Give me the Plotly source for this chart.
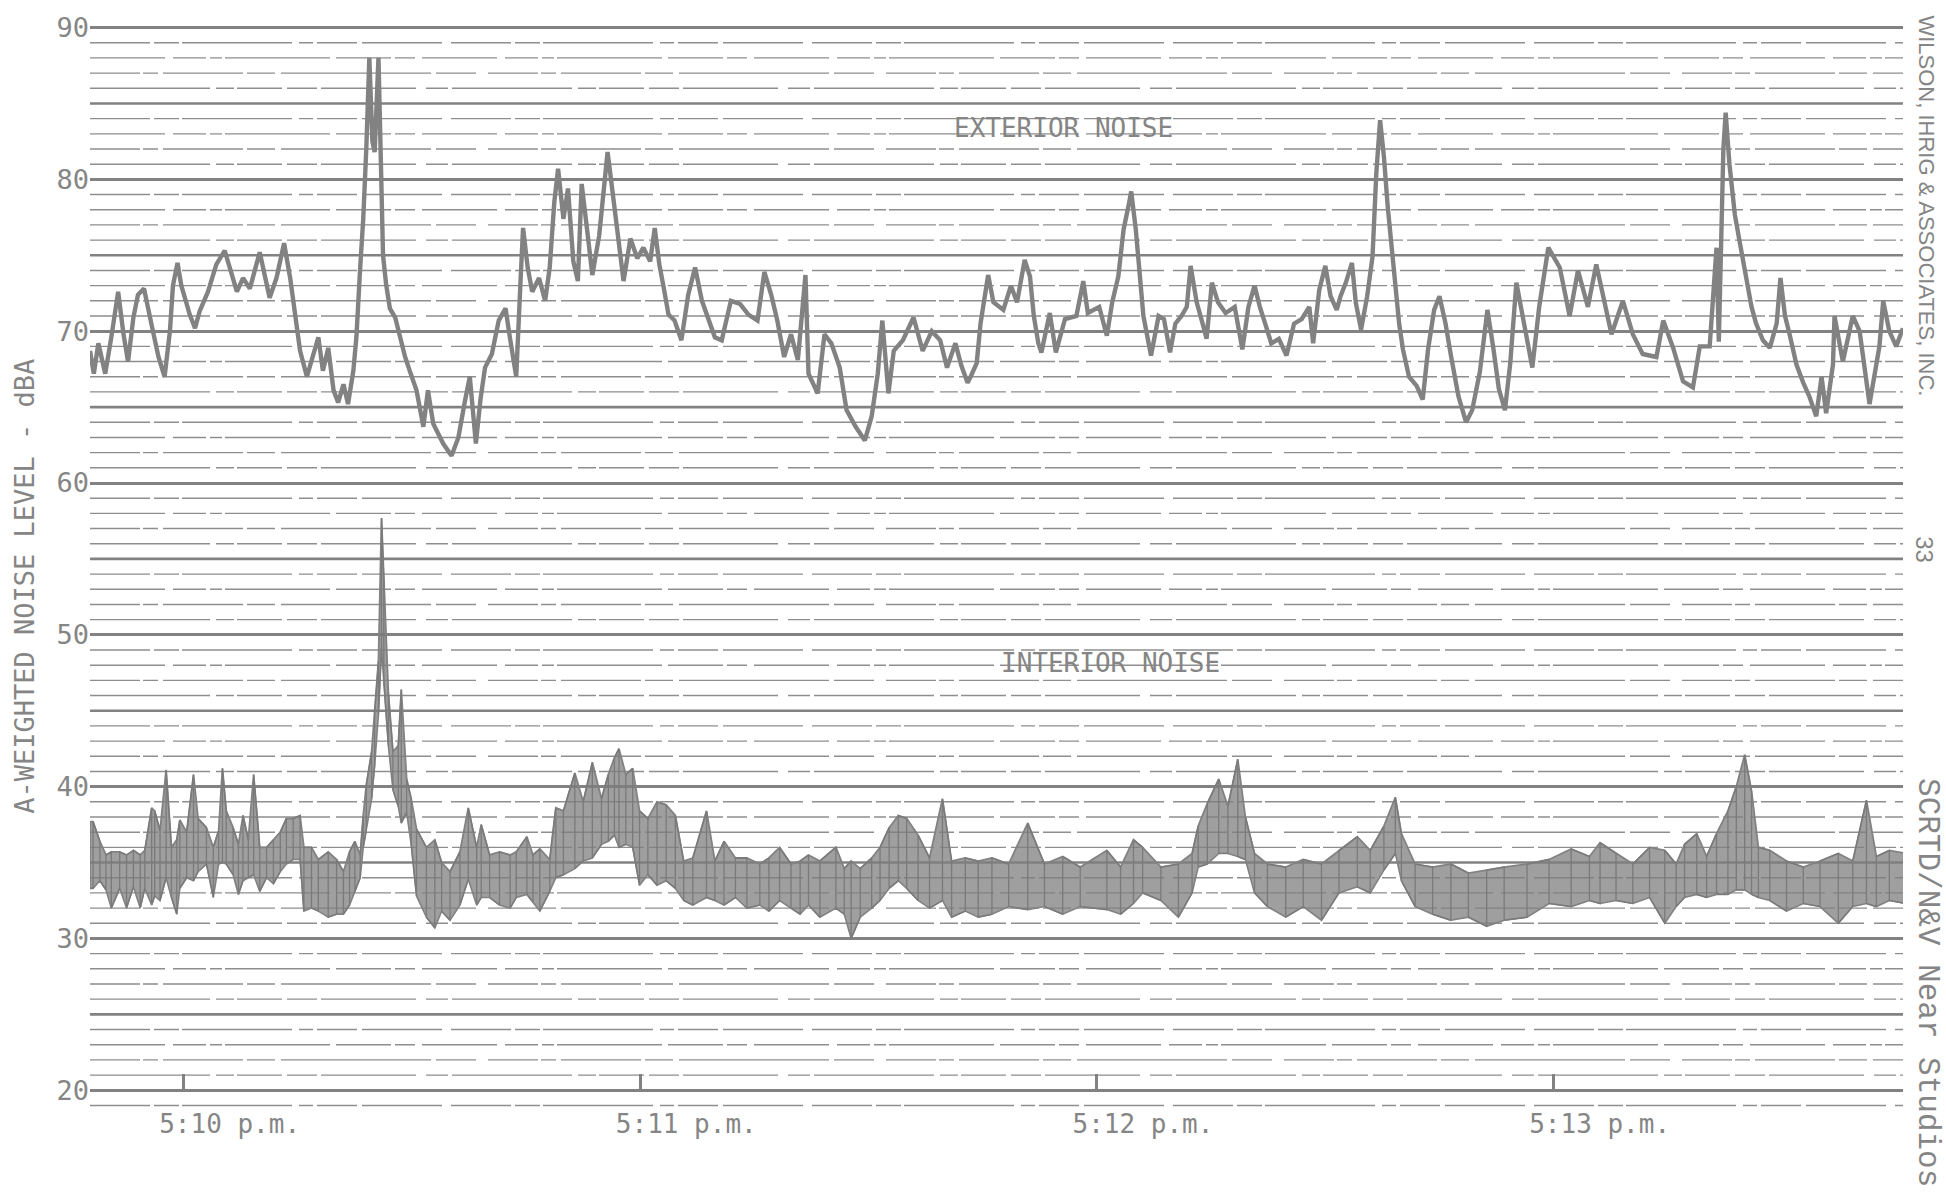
import plotly.graph_objects as go

# ---------------- data (seconds after 5:10:00 p.m., dBA) ----------------
ext_t = [
    -12.3, -11.8, -11.2, -10.3, -9.5, -8.6, -7.9, -7.3, -6.6, -6.0,
    -5.2, -4.6, -4.2, -3.3, -2.5, -1.8, -1.4, -0.8, -0.3, 0.4,
    0.8, 1.5, 2.1, 3.2, 4.3, 5.4, 6.3, 7.0, 7.8, 8.7,
    10.0, 10.7, 11.3, 12.2, 13.2, 14.0, 14.6, 15.3, 16.2, 17.0,
    17.7, 18.3, 19.0, 19.7, 20.3, 21.0, 21.6, 22.3, 22.7, 23.2,
    23.6, 24.0, 24.4, 24.8, 25.1, 25.6, 25.9, 26.2, 26.6, 27.1,
    27.8, 28.4, 29.1, 29.7, 30.6, 31.5, 32.1, 32.8, 33.4, 34.1,
    35.2, 36.1, 37.0, 37.6, 38.4, 39.0, 39.6, 40.5, 41.4, 42.3,
    42.8, 43.7, 44.3, 44.6, 45.2, 45.8, 46.7, 47.5, 48.1, 48.7,
    49.2, 49.9, 50.5, 51.2, 51.8, 52.3, 53.1, 53.7, 54.6, 55.7,
    56.3, 57.0, 57.8, 58.7, 59.6, 60.4, 61.3, 61.9, 62.5, 63.1,
    63.7, 64.5, 65.4, 66.3, 67.2, 68.1, 69.0, 69.8, 70.7, 71.9,
    73.1, 74.2, 75.4, 76.3, 77.2, 78.0, 78.9, 79.8, 80.7, 81.7,
    82.1, 83.3, 84.2, 85.1, 86.2, 87.1, 88.3, 89.5, 90.4, 91.2,
    91.8, 92.6, 93.3, 94.5, 95.9, 97.1, 98.3, 99.4, 100.3, 101.4,
    102.2, 103.0, 103.4, 104.2, 104.7, 105.2, 105.7, 106.4, 107.7, 108.7,
    109.5, 110.5, 111.2, 111.7, 112.3, 112.7, 113.8, 114.6, 115.8, 117.3,
    118.2, 118.8, 120.3, 121.3, 122.0, 122.8, 123.5, 124.2, 124.5, 125.1,
    125.6, 126.1, 126.6, 127.1, 128.1, 128.8, 129.6, 130.3, 131.1, 131.8,
    132.3, 133.1, 134.1, 134.4, 135.1, 135.9, 136.9, 138.1, 139.1, 139.9,
    140.7, 141.4, 142.1, 142.9, 143.9, 144.9, 145.9, 146.9, 147.9, 148.4,
    149.2, 150.0, 150.7, 151.5, 152.0, 152.7, 153.5, 154.0, 154.7, 155.5,
    156.2, 156.7, 157.2, 157.7, 158.2, 158.7, 159.2, 159.7, 160.2, 161.0,
    162.0, 162.8, 163.5, 164.3, 165.0, 165.8, 166.5, 167.5, 168.5, 169.3,
    170.3, 171.3, 172.1, 172.8, 173.6, 174.3, 175.1, 175.8, 176.6, 177.2,
    178.1, 179.3, 180.8, 182.1, 183.2, 184.5, 185.6, 186.9, 187.6, 189.1,
    190.4, 191.7, 193.5, 194.4, 195.7, 197.0, 198.3, 199.2, 200.5, 201.4,
    201.7, 202.3, 202.6, 203.1, 203.8, 204.4, 205.3, 206.0, 206.6, 207.5,
    208.4, 209.3, 209.8, 210.4, 211.0, 211.9, 212.8, 213.6, 214.5, 215.2,
    215.8, 216.7, 216.9, 218.0, 219.3, 220.2, 221.5, 222.8, 223.3, 224.1,
    225.0, 225.9,
]
ext_db = [
    68.7, 67.2, 69.2, 67.2, 69.6, 72.6, 69.8, 68.0, 70.9, 72.4,
    72.8, 71.5, 70.4, 68.3, 67.0, 70.0, 73.0, 74.5, 73.0, 71.8,
    71.1, 70.2, 71.3, 72.6, 74.4, 75.3, 73.9, 72.6, 73.5, 72.8,
    75.2, 73.5, 72.2, 73.5, 75.8, 73.5, 71.3, 68.7, 67.0, 68.5,
    69.6, 67.4, 68.9, 66.1, 65.3, 66.5, 65.2, 67.4, 69.6, 74.2,
    77.4, 82.0, 88.0, 82.5, 81.8, 88.0, 80.0, 75.0, 73.1, 71.5,
    70.9, 69.6, 68.3, 67.4, 66.1, 63.7, 66.1, 63.9, 63.3, 62.6,
    61.8, 63.0, 65.5, 67.0, 62.6, 65.5, 67.6, 68.5, 70.7, 71.5,
    69.8, 67.0, 73.7, 76.8, 74.2, 72.6, 73.5, 72.0, 74.2, 78.5,
    80.7, 77.4, 79.4, 74.6, 73.3, 79.7, 76.3, 73.7, 76.3, 81.8,
    79.4, 76.8, 73.3, 76.1, 74.8, 75.5, 74.6, 76.8, 74.4, 72.8,
    71.1, 70.7, 69.4, 72.4, 74.2, 72.0, 70.7, 69.6, 69.4, 72.0,
    71.8, 71.1, 70.7, 73.9, 72.4, 70.7, 68.3, 69.8, 68.1, 73.7,
    67.2, 65.9, 69.8, 69.2, 67.6, 64.8, 63.7, 62.8, 64.4, 67.2,
    70.7, 65.9, 68.7, 69.4, 70.9, 68.7, 70.0, 69.4, 67.6, 69.2,
    67.7, 66.6, 67.0, 67.9, 70.5, 72.3, 73.7, 71.9, 71.4, 73.0,
    71.9, 74.7, 73.6, 71.0, 69.2, 68.6, 71.2, 68.6, 70.8, 71.0,
    73.3, 71.2, 71.6, 69.7, 71.9, 73.6, 76.7, 78.4, 79.2, 76.7,
    73.6, 71.0, 69.7, 68.4, 71.0, 70.8, 68.6, 70.5, 71.0, 71.6,
    74.3, 71.9, 70.1, 69.5, 73.2, 71.9, 71.2, 71.6, 68.8, 71.6,
    73.0, 71.6, 70.5, 69.2, 69.5, 68.4, 70.5, 70.8, 71.6, 69.2,
    72.7, 74.3, 72.3, 71.4, 72.3, 73.2, 74.5, 71.9, 70.1, 72.3,
    74.9, 80.4, 83.9, 81.5, 78.2, 75.6, 72.7, 70.5, 68.8, 67.0,
    66.4, 65.5, 68.8, 71.4, 72.3, 70.5, 68.4, 65.7, 64.0, 64.8,
    67.3, 71.4, 68.8, 66.2, 64.8, 67.9, 73.2, 71.4, 69.2, 67.6,
    71.6, 75.5, 74.2, 71.0, 74.0, 71.6, 74.4, 71.6, 69.8, 72.0,
    69.8, 68.5, 68.3, 70.7, 68.9, 66.7, 66.3, 69.0, 69.0, 75.5,
    69.3, 82.0, 84.4, 81.0, 77.7, 76.0, 73.5, 71.6, 70.5, 69.4,
    68.9, 70.5, 73.5, 71.0, 69.8, 67.8, 66.6, 65.7, 64.4, 67.0,
    64.6, 67.8, 71.0, 68.0, 71.0, 70.0, 65.2, 69.0, 72.0, 70.0,
    69.0, 70.2,
]

int_t = [
    -12.3, -11.9, -11.0, -10.2, -9.5, -8.4, -7.5, -6.6, -5.7, -5.1,
    -4.2, -3.8, -3.1, -2.3, -1.6, -0.9, -0.5, 0.4, 1.3, 1.9,
    3.0, 3.9, 4.6, 5.1, 5.6, 6.5, 7.2, 7.8, 8.5, 9.2,
    10.0, 10.9, 11.8, 12.7, 13.5, 14.4, 15.3, 15.8, 16.8, 17.7,
    19.0, 20.1, 21.0, 21.8, 22.5, 23.2, 23.6, 24.0, 24.7, 25.1,
    25.6, 26.0, 26.3, 26.9, 27.5, 28.2, 28.6, 29.3, 29.9, 30.6,
    31.9, 33.0, 33.9, 35.0, 36.3, 37.4, 38.5, 39.1, 40.2, 41.5,
    42.9, 43.7, 45.1, 45.9, 46.8, 48.1, 48.9, 49.9, 51.4, 52.5,
    53.7, 54.9, 55.8, 56.6, 57.2, 58.1, 59.0, 59.9, 61.0, 62.2,
    63.4, 64.6, 65.7, 66.9, 68.7, 69.8, 71.0, 72.5, 74.0, 75.7,
    76.9, 78.3, 79.8, 81.0, 82.1, 83.6, 85.7, 86.8, 87.7, 88.9,
    90.4, 91.5, 92.7, 93.9, 95.0, 96.5, 98.0, 99.7, 100.9, 102.7,
    104.4, 106.2, 108.4, 110.9, 113.1, 115.5, 117.8, 121.3, 123.1, 124.8,
    126.0, 128.4, 130.7, 132.5, 133.3, 134.5, 136.0, 137.2, 138.5, 139.5,
    140.7, 142.4, 144.8, 147.1, 149.5, 151.8, 154.2, 155.9, 157.7, 159.2,
    160.0, 161.8, 164.1, 166.5, 168.8, 171.2, 173.5, 176.5, 179.4, 182.3,
    184.7, 186.1, 188.2, 190.4, 192.6, 194.6, 196.1, 197.2, 198.8, 200.1,
    201.4, 202.9, 204.0, 205.1, 206.0, 206.9, 208.4, 210.6, 212.8, 215.0,
    217.4, 219.3, 221.1, 222.4, 224.1, 226.3,
]
int_hi = [
    37.7, 37.7, 36.4, 35.5, 35.7, 35.7, 35.5, 35.8, 35.5, 35.8,
    38.6, 38.4, 37.1, 41.1, 36.0, 36.5, 37.8, 37.0, 40.8, 37.9,
    37.3, 36.0, 37.1, 41.2, 38.4, 37.3, 36.2, 38.1, 36.5, 40.8,
    36.0, 36.0, 36.5, 37.0, 37.9, 37.9, 38.1, 36.0, 36.0, 35.2,
    35.7, 35.2, 34.4, 35.7, 36.4, 35.5, 38.1, 40.1, 42.3, 44.9,
    48.3, 57.7, 53.7, 46.2, 42.3, 42.7, 46.4, 40.5, 39.2, 37.2,
    36.0, 36.5, 35.0, 34.4, 35.7, 38.6, 36.0, 37.5, 35.5, 35.7,
    35.5, 35.7, 36.7, 35.5, 35.9, 35.2, 38.6, 38.4, 40.9, 39.0,
    41.6, 39.2, 40.8, 41.9, 42.5, 40.8, 41.2, 38.4, 37.9, 39.0,
    38.8, 38.1, 35.1, 35.3, 38.4, 35.1, 36.4, 35.3, 35.3, 34.9,
    35.3, 36.0, 34.9, 35.1, 35.5, 35.1, 36.0, 34.6, 35.1, 34.6,
    35.3, 36.0, 37.3, 38.1, 37.9, 36.8, 35.3, 39.2, 35.1, 35.3,
    35.1, 35.3, 34.9, 37.6, 34.9, 35.4, 34.7, 35.8, 34.7, 36.5,
    36.0, 34.7, 34.9, 35.6, 37.4, 38.9, 40.5, 38.7, 41.8, 38.0,
    35.6, 34.9, 34.7, 35.2, 34.9, 35.8, 36.7, 35.8, 37.4, 39.3,
    36.9, 34.9, 34.7, 34.9, 34.3, 34.5, 34.7, 34.9, 35.2, 35.9,
    35.4, 36.3, 35.6, 34.9, 36.0, 35.8, 34.9, 36.2, 36.9, 35.4,
    36.9, 38.4, 40.0, 42.1, 39.7, 36.0, 35.8, 35.1, 34.7, 35.1,
    35.6, 35.1, 39.1, 35.4, 35.8, 35.6,
]
int_lo = [
    33.3, 33.3, 33.8, 33.2, 32.0, 33.3, 32.0, 33.4, 32.0, 33.3,
    32.2, 32.8, 32.5, 34.0, 32.7, 31.6, 33.3, 34.0, 33.8, 34.4,
    34.9, 32.7, 34.9, 35.0, 34.9, 34.2, 32.9, 33.8, 34.0, 34.2,
    33.1, 34.0, 33.6, 34.4, 34.9, 35.2, 35.2, 31.8, 32.0, 31.8,
    31.4, 31.6, 31.6, 32.2, 33.1, 34.0, 36.0, 37.1, 39.2, 41.4,
    44.8, 49.1, 47.0, 42.7, 39.8, 38.7, 37.6, 38.3, 36.2, 32.8,
    31.4, 30.7, 31.8, 31.2, 32.2, 33.9, 32.2, 32.7, 32.7, 32.2,
    32.0, 32.7, 32.9, 32.4, 31.8, 33.1, 34.0, 34.2, 34.6, 35.1,
    35.3, 36.2, 36.4, 36.8, 36.0, 36.2, 36.0, 33.5, 34.2, 33.5,
    33.8, 33.3, 32.5, 32.2, 32.7, 32.5, 32.2, 32.7, 32.0, 32.2,
    31.8, 32.5, 32.0, 31.6, 32.2, 31.4, 32.0, 31.6, 30.0, 31.4,
    32.0, 32.5, 33.3, 33.8, 33.3, 32.5, 32.0, 32.5, 31.4, 31.8,
    31.4, 31.6, 32.1, 31.9, 32.1, 31.6, 32.1, 31.9, 31.6, 32.3,
    33.0, 32.5, 31.4, 33.0, 34.7, 34.9, 35.6, 35.6, 35.4, 35.2,
    33.0, 32.1, 31.4, 32.1, 31.2, 33.0, 33.4, 33.0, 34.5, 35.6,
    33.8, 32.1, 31.6, 31.2, 31.4, 30.8, 31.2, 31.4, 32.3, 32.1,
    32.5, 32.3, 32.5, 32.3, 32.7, 31.0, 32.1, 32.7, 32.9, 32.7,
    32.9, 32.9, 33.2, 33.2, 32.9, 32.7, 32.5, 31.8, 32.3, 32.1,
    31.0, 32.1, 32.3, 32.1, 32.5, 32.3,
]

time_tickvals = [0, 60, 120, 180]
time_ticktext = ["5:10 p.m.", "5:11 p.m.", "5:12 p.m.", "5:13 p.m."]
level_tickvals = [20, 30, 40, 50, 60, 70, 80, 90]
level_ticktext = ["20", "30", "40", "50", "60", "70", "80", "90"]

# ---------------- styling ----------------
INK = "#828282"
TXT = "#858585"
X_RANGE = [-12.3, 225.9]
Y_RANGE = [18.7, 90.3]
MONO = "DejaVu Sans Mono, Liberation Mono, monospace"
THIN_DASHES = [
    "60px,4px,25px,3px,110px,7px,14px,4px,40px,5px,80px,9px",
    "35px,5px,90px,3px,20px,6px,70px,4px,130px,8px,12px,3px",
    "120px,6px,18px,3px,45px,5px,30px,4px,95px,10px,22px,4px",
    "50px,3px,15px,5px,80px,4px,28px,6px,150px,5px,40px,12px",
    "75px,8px,33px,4px,12px,3px,105px,6px,55px,4px,20px,7px",
]

fig = go.Figure()

# interior noise: pen band
fig.add_trace(go.Scatter(
    x=int_t, y=int_lo, mode="lines",
    line=dict(color=INK, width=1.6), hoverinfo="skip", showlegend=False))
fig.add_trace(go.Scatter(
    x=int_t, y=int_hi, mode="lines", fill="tonexty",
    fillcolor="rgba(125,125,125,0.74)",
    line=dict(color=INK, width=1.8), hoverinfo="skip", showlegend=False))
# vertical pen strokes at each read sample
stroke_x, stroke_y = [], []
for i, (t, hi, lo) in enumerate(zip(int_t, int_hi, int_lo)):
    stroke_x += [t, t]
    stroke_y += [hi, lo] if i % 2 == 0 else [lo, hi]
fig.add_trace(go.Scatter(
    x=stroke_x, y=stroke_y, mode="lines",
    line=dict(color="#7a7a7a", width=1.3), hoverinfo="skip", showlegend=False))

# exterior noise trace
fig.add_trace(go.Scatter(
    x=ext_t, y=ext_db, mode="lines",
    line=dict(color=INK, width=4.4), hoverinfo="skip", showlegend=False))

# 1-dB and 5-dB chart-paper lines
lo_line = int(Y_RANGE[0]) + 1
hi_line = int(Y_RANGE[1])
for k, lv in enumerate(range(lo_line, hi_line + 1)):
    if lv % 10 == 0:
        continue
    if lv % 5 == 0:
        fig.add_shape(type="line", xref="paper", yref="y", x0=0, x1=1, y0=lv, y1=lv,
                      line=dict(color=INK, width=2.6), layer="below")
    else:
        fig.add_shape(type="line", xref="paper", yref="y", x0=0, x1=1, y0=lv, y1=lv,
                      line=dict(color="#8e8e8e", width=1.4,
                                dash=THIN_DASHES[k % len(THIN_DASHES)]),
                      layer="below")

fig.update_layout(
    width=1946, height=1194,
    margin=dict(l=90, r=43, t=15.4, b=84.1),
    paper_bgcolor="white", plot_bgcolor="white",
    showlegend=False,
    xaxis=dict(
        range=X_RANGE, anchor="free",
        position=(20 - Y_RANGE[0]) / (Y_RANGE[1] - Y_RANGE[0]),
        showgrid=False, zeroline=False, showline=False,
        tickmode="array", tickvals=time_tickvals, ticktext=time_ticktext,
        ticks="inside", ticklen=16, tickwidth=2.5, tickcolor=INK,
        ticklabelshift=46, ticklabelstandoff=16,
        tickfont=dict(family=MONO, size=26, color=TXT),
    ),
    yaxis=dict(
        range=Y_RANGE, zeroline=False, showline=False,
        tickmode="array", tickvals=level_tickvals, ticktext=level_ticktext,
        ticks="", showgrid=True, gridcolor=INK, gridwidth=3,
        tickfont=dict(family=MONO, size=27, color=TXT),
    ),
    annotations=[
        dict(text="A-WEIGHTED NOISE LEVEL - dBA", xref="paper", yref="paper",
             x=-0.0358, y=0.4814, textangle=-90, showarrow=False,
             xanchor="center", yanchor="middle",
             font=dict(family=MONO, size=27, color=TXT)),
        dict(text="EXTERIOR NOISE", xref="x", yref="y", x=115.6, y=83.4,
             showarrow=False, xanchor="center", yanchor="middle",
             font=dict(family=MONO, size=26, color=TXT)),
        dict(text="INTERIOR NOISE", xref="x", yref="y", x=121.8, y=48.15,
             showarrow=False, xanchor="center", yanchor="middle",
             font=dict(family=MONO, size=26, color=TXT)),
        dict(text="WILSON, IHRIG &amp; ASSOCIATES, INC.", xref="paper", yref="paper",
             x=1.0132, y=0.8313, textangle=90, showarrow=False,
             xanchor="center", yanchor="middle",
             font=dict(family="Liberation Sans, Arial, sans-serif", size=22, color=TXT)),
        dict(text="33", xref="paper", yref="paper",
             x=1.0121, y=0.515, textangle=90, showarrow=False,
             xanchor="center", yanchor="middle",
             font=dict(family="Liberation Sans, Arial, sans-serif", size=24, color=TXT)),
        dict(text="SCRTD/N&amp;V Near Studios", xref="paper", yref="paper",
             x=1.0138, y=0.1177, textangle=90, showarrow=False,
             xanchor="center", yanchor="middle",
             font=dict(family="Liberation Mono, Courier New, monospace", size=31, color=TXT)),
    ],
)

fig.write_html("out.html")
